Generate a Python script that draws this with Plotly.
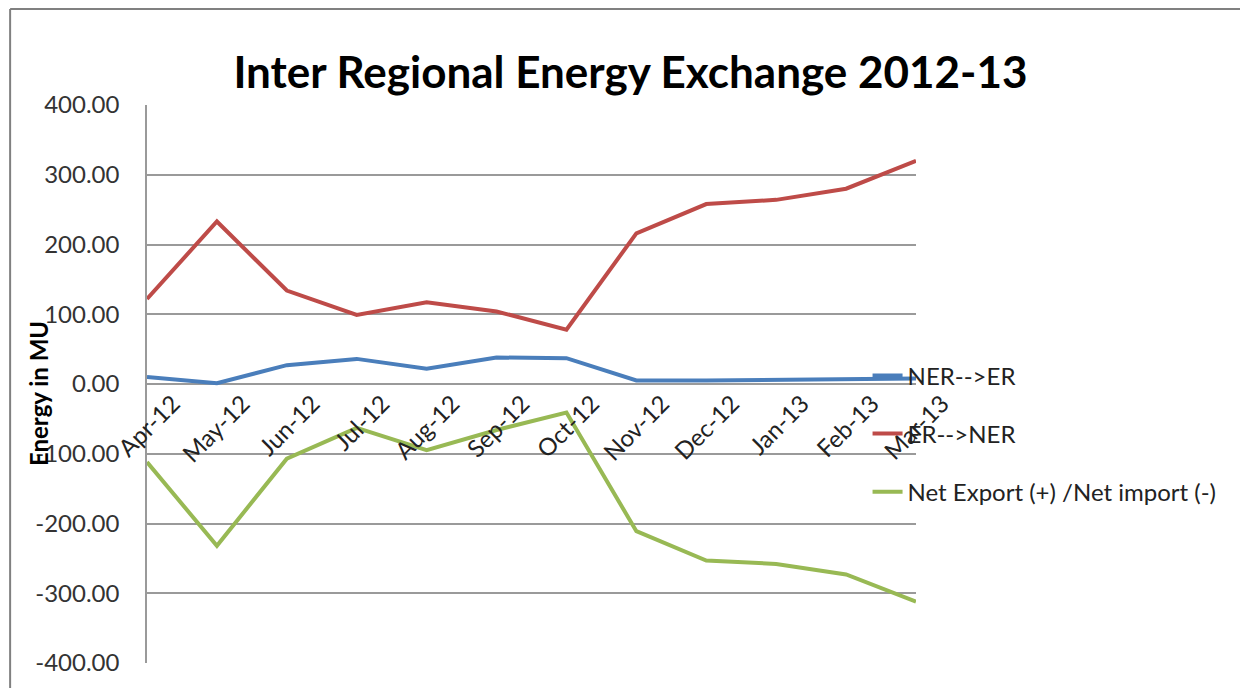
import plotly.graph_objects as go

months = ["Apr-12", "May-12", "Jun-12", "Jul-12", "Aug-12", "Sep-12",
          "Oct-12", "Nov-12", "Dec-12", "Jan-13", "Feb-13", "Mar-13"]
ner_to_er = [10, 1, 27, 36, 22, 38, 37, 5, 5, 6, 7, 8]
er_to_ner = [122, 233, 134, 99, 117, 104, 78, 216, 258, 264, 280, 320]
net_exchange = [-112, -232, -107, -63, -95, -66, -41, -211, -253, -258, -273, -312]
y_ticks = [400, 300, 200, 100, 0, -100, -200, -300, -400]

BODY_FONT = "Lato, 'Open Sans', sans-serif"
GRID = "#9a9a9a"
FRAME = dict(color="#808080", width=2)

fig = go.Figure()
series = [
    ("NER-->ER", ner_to_er, "#4a7ebb"),
    ("ER-->NER", er_to_ner, "#be4b48"),
    ("Net Export (+) /Net import (-)", net_exchange, "#98b954"),
]
for name, vals, color in series:
    fig.add_trace(go.Scatter(
        x=months, y=vals, name=name, mode="lines", legendgroup=name,
        line=dict(color=color, width=4),
    ))

# page body has an 8px margin, so the figure is 8px smaller than the window
fig.update_layout(
    width=1240,
    height=680,
    margin=dict(l=139, r=332, t=97, b=25),
    paper_bgcolor="white",
    plot_bgcolor="white",
    font=dict(family=BODY_FONT, size=24, color="#222222"),
    title=dict(
        text="<b>Inter Regional Energy Exchange 2012-13</b>",
        font=dict(family=BODY_FONT, size=44, color="black"),
        x=0.502, xanchor="center", y=0.905, yanchor="middle",
    ),
    legend=dict(
        x=0.937, xanchor="left", y=0.555, yanchor="top",
        bgcolor="rgba(0,0,0,0)", tracegroupgap=24,
        font=dict(family=BODY_FONT, size=24, color="#222222"),
    ),
    xaxis=dict(
        type="category", anchor="free", position=0.5,
        showgrid=False, showline=False, ticks="", zeroline=False,
        tickangle=-45, ticklabelshift=26,
        tickfont=dict(size=24, color="#222222"),
    ),
    yaxis=dict(
        range=[-400, 400], tickvals=y_ticks,
        ticktext=[f"{v:.2f}" for v in y_ticks],
        showgrid=True, gridcolor=GRID, gridwidth=1.5,
        zeroline=True, zerolinecolor=GRID, zerolinewidth=1.5,
        showline=True, linecolor=GRID, linewidth=1.5,
        ticks="", ticklabelstandoff=21,
        tickfont=dict(size=24, color="#333333"),
    ),
    annotations=[dict(
        text="<b>Energy in MU</b>", textangle=-90,
        xref="paper", yref="paper", x=-0.1417, y=0.482,
        xanchor="center", yanchor="middle", showarrow=False,
        font=dict(family=BODY_FONT, size=24, color="black"),
    )],
    shapes=[
        dict(type="line", xref="paper", yref="paper",
             x0=-0.178, x1=-0.178, y0=-0.2, y1=1.172, line=FRAME, layer="below"),
        dict(type="line", xref="paper", yref="paper",
             x0=-0.178, x1=1.6, y0=1.172, y1=1.172, line=FRAME, layer="below"),
    ],
)

fig.write_html("out.html")
